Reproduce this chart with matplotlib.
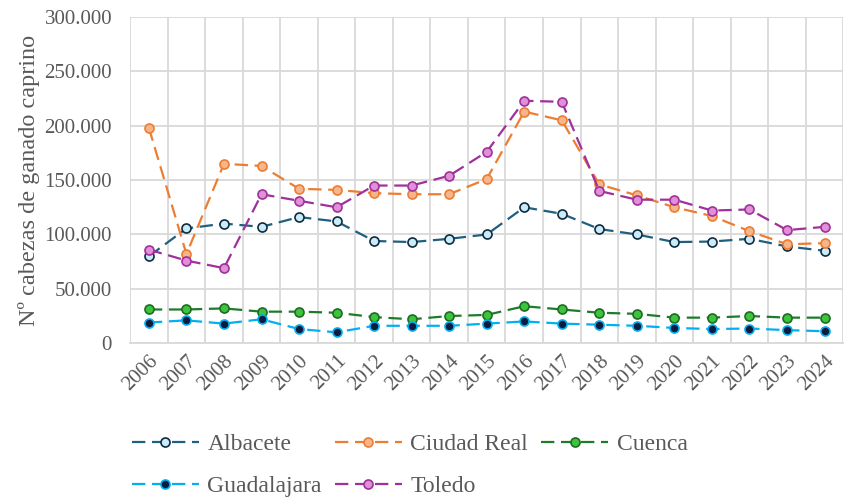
import matplotlib.pyplot as plt
import matplotlib.ticker as mticker
import numpy as np

# Datos: cabezas de ganado caprino por provincia
anios = [str(a) for a in range(2006, 2025)]
albacete = [80000, 105500, 110000, 107000, 116000, 112000, 94000, 93000, 96000, 100000,
            125000, 119000, 105000, 100000, 93000, 93500, 96000, 89000, 85000]
ciudad_real = [198000, 82000, 165000, 163000, 142000, 141000, 138000, 137000, 137000, 151000,
               213000, 205000, 146000, 136000, 125000, 117000, 103000, 91000, 92000]
cuenca = [31000, 31000, 32000, 29000, 29000, 28000, 24000, 22000, 25000, 26000,
          34000, 31000, 28000, 27000, 23500, 23500, 25000, 23500, 23500]
guadalajara = [19000, 21000, 18000, 22000, 13000, 10000, 16000, 16000, 16000, 18000,
               20000, 18000, 17000, 16000, 14000, 13000, 13500, 12000, 11000]
toledo = [86000, 76000, 69000, 137000, 131000, 125000, 145000, 145000, 154000, 176000,
          223000, 222000, 140000, 132000, 132000, 122000, 123000, 104000, 107000]

series = [
    ('Albacete', albacete, '#1F5F7F', '#C9ECF8', '#0E2A3F'),
    ('Ciudad Real', ciudad_real, '#ED7D31', '#F7B58C', '#ED7D31'),
    ('Cuenca', cuenca, '#1E7B2A', '#3CC43C', '#1E6B22'),
    ('Guadalajara', guadalajara, '#00B0F0', '#0D1B3E', '#00B0F0'),
    ('Toledo', toledo, '#A0309A', '#E08FD8', '#A0309A'),
]

plt.rcParams['font.family'] = 'serif'
plt.rcParams['font.serif'] = ['Liberation Serif', 'Times New Roman', 'DejaVu Serif']

fig = plt.figure(figsize=(8.45, 5.01), dpi=100)
ax = fig.add_axes([0.154, 0.315, 0.844, 0.651])

x = np.arange(len(anios))
lineas = []
for nombre, valores, color, relleno, borde in series:
    l, = ax.plot(x, valores, color=color, linewidth=1.6, dashes=(6, 3),
                 marker='o', markersize=6.5, markerfacecolor=relleno,
                 markeredgecolor=borde, markeredgewidth=1.2, label=nombre)
    lineas.append(l)

ax.set_xlim(-0.5, len(anios) - 0.5)
ax.set_ylim(0, 300000)
ax.set_yticks(np.arange(0, 300001, 50000))
ax.yaxis.set_major_formatter(mticker.FuncFormatter(lambda v, p: f'{int(v):,}'.replace(',', '.')))
ax.set_xticks(x)
ax.set_xticklabels(anios, rotation=45, ha='right', rotation_mode='anchor')
ax.set_xticks(np.arange(-0.5, len(anios), 1), minor=True)

ax.grid(True, which='minor', axis='x', color='#D9D9D9', linewidth=1.3)
ax.grid(True, which='major', axis='y', color='#D9D9D9', linewidth=1.3)
ax.set_axisbelow(True)
for s in ['top', 'right', 'left']:
    ax.spines[s].set_visible(False)
ax.spines['bottom'].set_color('#D9D9D9')
ax.spines['bottom'].set_linewidth(1.3)
ax.tick_params(axis='both', which='both', length=0, labelsize=15, colors='#595959')
ax.tick_params(axis='x', pad=6)
ax.tick_params(axis='y', pad=13)

ax.set_ylabel('Nº cabezas de ganado caprino', fontsize=17.5, color='#595959', labelpad=3)

# orden por filas: Albacete, Ciudad Real, Cuenca / Guadalajara, Toledo
orden = [0, 3, 1, 4, 2]
fig.legend([lineas[i] for i in orden], [series[i][0] for i in orden],
           loc='upper left', bbox_to_anchor=(0.156, 0.134), ncol=3, frameon=False,
           borderaxespad=0, borderpad=0,
           fontsize=17, labelcolor='#595959', handlelength=2.85, handletextpad=0.35,
           columnspacing=0.55, labelspacing=0.85)

plt.savefig('out.png', dpi=100)
